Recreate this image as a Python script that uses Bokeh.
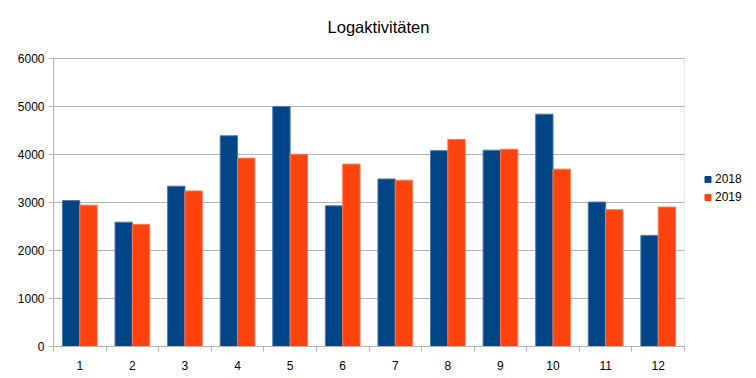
from bokeh.plotting import figure
from bokeh.models import FixedTicker, Legend, LegendItem, Label, Range1d, BoxAnnotation
from bokeh.embed import file_html
from bokeh.resources import INLINE

months = list(range(1, 13))
month_labels = [str(m) for m in months]
y2018 = [3040, 2590, 3340, 4390, 5000, 2930, 3490, 4080, 4090, 4840, 3010, 2315]
y2019 = [2945, 2545, 3240, 3925, 4005, 3800, 3465, 4315, 4110, 3695, 2850, 2905]
series_names = ["2018", "2019"]
series_colors = ["#004586", "#ff420e"]
series_edges = ["#4f7aa8", "#ff7650"]
y_ticks = [0, 1000, 2000, 3000, 4000, 5000, 6000]
title_text = "Logaktivitäten"

FONT = "Liberation Sans"
GRID = "#b3b3b3"

W, H = 756, 378
# pixel layout of the visible plot area (left, right, top, bottom)
PL, PR, PT, PB = 53, 684, 58, 346
x0, x1 = 0.5, 12.5
y0, y1 = 0, 6000
x_end = x0 + (x1 - x0) * (W - PL) / (PR - PL)
y_end = y0 + (y1 - y0) * PB / (PB - PT)

p = figure(width=W, height=H, output_backend="svg", toolbar_location=None,
           x_range=Range1d(x0, x_end), y_range=Range1d(y0, y_end),
           min_border_left=PL, min_border_right=0, min_border_top=0, min_border_bottom=H - PB)
p.background_fill_color = "white"
p.border_fill_color = "white"
p.outline_line_color = None

bw = 0.33
off = 0.165
x18 = [m - off for m in months]
x19 = [m + off for m in months]
r1 = p.vbar(x=x18, top=y2018, width=bw, fill_color=series_colors[0], line_color=series_edges[0], line_width=1)
r2 = p.vbar(x=x19, top=y2019, width=bw, fill_color=series_colors[1], line_color=series_edges[1], line_width=1)

# legend proxies: zero-size square markers on the bar tops (legend computes its own marker size)
k1 = p.scatter(x=x18, y=y2018, marker="square", size=0, fill_color=series_colors[0], line_color=series_colors[0])
k2 = p.scatter(x=x19, y=y2019, marker="square", size=0, fill_color=series_colors[1], line_color=series_colors[1])

# axes
p.xaxis.ticker = FixedTicker(ticks=months, minor_ticks=[m + 0.5 for m in range(0, 13)])
p.xaxis.major_label_overrides = {m: l for m, l in zip(months, month_labels)}
p.xaxis.bounds = (x0, x1)
p.xaxis.major_tick_out = 0
p.xaxis.major_tick_in = 0
p.xaxis.minor_tick_out = 5
p.xaxis.minor_tick_in = 0
p.xaxis.minor_tick_line_color = GRID
p.xaxis.axis_line_color = GRID
p.xaxis.major_label_standoff = 9
p.xgrid.grid_line_color = None

p.yaxis.ticker = FixedTicker(ticks=y_ticks)
p.yaxis.bounds = (y0, y1)
p.yaxis.major_tick_out = 5
p.yaxis.major_tick_in = 0
p.yaxis.minor_tick_line_color = None
p.yaxis.major_tick_line_color = GRID
p.yaxis.axis_line_color = GRID
p.yaxis.major_label_standoff = 4
p.ygrid.grid_line_color = GRID

for ax in (p.xaxis, p.yaxis):
    ax.major_label_text_font = FONT
    ax.major_label_text_font_size = "12px"
    ax.major_label_text_color = "#000000"

# hide grid beyond the plot area, then draw the plot-area border
p.add_layout(BoxAnnotation(left=x1, fill_color="white", fill_alpha=1.0, line_alpha=0))
p.add_layout(BoxAnnotation(left=x0, right=x1, bottom=y0, top=y1, fill_alpha=0,
                           line_color=GRID, line_width=1))

# title
p.add_layout(Label(x=378 - PL, y=PB - 26, x_units="screen", y_units="screen", text=title_text,
                   text_font=FONT, text_font_size="16.5px", text_align="center",
                   text_baseline="middle", text_color="#000000"))

legend = Legend(items=[LegendItem(label=series_names[0], renderers=[k1]),
                       LegendItem(label=series_names[1], renderers=[k2])],
                location=(700 - PL, PB - 206), orientation="vertical",
                glyph_width=15, glyph_height=18, label_standoff=-4, label_height=18,
                spacing=0, padding=0, margin=0,
                border_line_alpha=0, background_fill_alpha=0,
                label_text_font=FONT, label_text_font_size="12px", label_text_color="#000000")
p.add_layout(legend)

open("out.html", "w").write(file_html(p, INLINE))
